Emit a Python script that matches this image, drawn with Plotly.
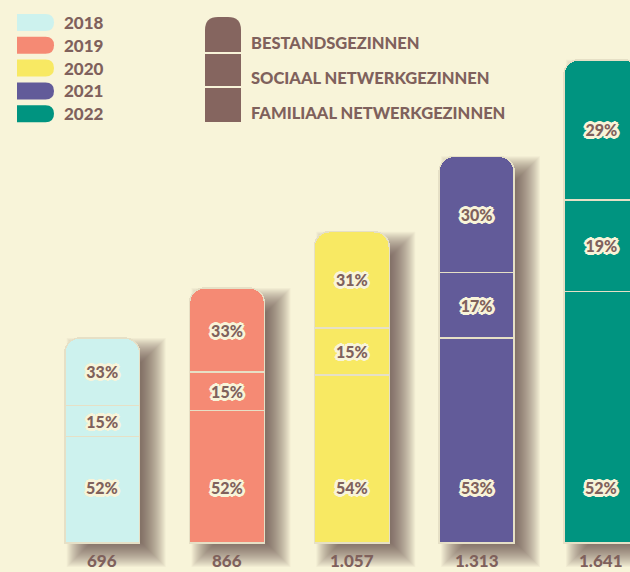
import plotly.graph_objects as go

# ---- data ----
years = ["2018", "2019", "2020", "2021", "2022"]
totals = [696, 866, 1057, 1313, 1641]
pct_familiaal = [52, 52, 54, 53, 52]   # bottom segment
pct_sociaal = [15, 15, 15, 17, 19]     # middle segment
pct_bestand = [33, 33, 31, 30, 29]     # top segment
segment_labels = ["BESTANDSGEZINNEN", "SOCIAAL NETWERKGEZINNEN", "FAMILIAAL NETWERKGEZINNEN"]
year_colors = ["#cdf2ee", "#f58a74", "#f8e963", "#625b99", "#009480"]

# ---- style ----
W, H = 630, 572
BG = "#f8f4d9"
BROWN = "#7f615c"
FONT = "Lato, 'Open Sans', sans-serif"
XR = [-0.819, 4.229]
YR = [-98.5, 1844]
PX_X = (XR[1] - XR[0]) / W
PX_Y = (YR[1] - YR[0]) / H
BAR_W = 0.6

outline = BG
shadow_txt = ", ".join(
    f"{dx}px {dy}px 0 {outline}"
    for dx, dy in [(2, 0), (-2, 0), (0, 2), (0, -2), (2, 2), (-2, -2), (2, -2), (-2, 2),
                   (1, 2), (2, 1), (-1, 2), (-2, 1), (1, -2), (2, -1), (-1, -2), (-2, -1),
                   (3, 0), (-3, 0), (0, 3), (0, -3)]
)
label_font = dict(family=FONT, size=16, color=BROWN, weight=900, shadow=shadow_txt)

fig = go.Figure()

series = [
    ("familiaal", pct_familiaal, False),
    ("sociaal", pct_sociaal, True),
    ("bestand", pct_bestand, True),
]
for name, pcts, show_text in series:
    fig.add_trace(go.Bar(
        x=years,
        y=[t * p / 100 for t, p in zip(totals, pcts)],
        name=name,
        width=BAR_W,
        marker=dict(color=year_colors, line=dict(color="#e6e0c6", width=1.5)),
        text=[f"{p}%" for p in pcts] if show_text else None,
        textposition="inside" if show_text else "none",
        insidetextanchor="middle",
        textangle=0,
        constraintext="none",
        textfont=label_font,
        hoverinfo="skip",
        showlegend=False,
    ))

shapes = []
# soft drop shadows behind bars (computed from the totals)
dx_px, dy_px = 14, 12
for i, t in enumerate(totals):
    for s in range(-12, 13, 1):
        shapes.append(dict(
            type="rect", xref="x", yref="y", layer="below",
            x0=i - BAR_W / 2 + (dx_px - s) * PX_X,
            x1=i + BAR_W / 2 + (dx_px + s) * PX_X,
            y0=0 - (dy_px + s) * PX_Y,
            y1=t - (dy_px - s) * PX_Y,
            fillcolor="rgba(70,62,40,0.038)", line=dict(width=0),
        ))


def rpath(x0, y0, x1, y1, tl=0, tr=0, br=0, bl=0):
    def P(x, y):
        return f"{x / W:.5f},{1 - y / H:.5f}"
    d = f"M{P(x0 + tl, y0)} L{P(x1 - tr, y0)} Q{P(x1, y0)} {P(x1, y0 + tr)} "
    d += f"L{P(x1, y1 - br)} Q{P(x1, y1)} {P(x1 - br, y1)} "
    d += f"L{P(x0 + bl, y1)} Q{P(x0, y1)} {P(x0, y1 - bl)} "
    d += f"L{P(x0, y0 + tl)} Q{P(x0, y0)} {P(x0 + tl, y0)} Z"
    return d


annotations = []
# year legend
for k, (yr, col) in enumerate(zip(years, year_colors)):
    top = 14 + k * 22.8
    shapes.append(dict(type="path", xref="paper", yref="paper",
                       path=rpath(17, top, 54, top + 17, tr=8.5, br=8.5),
                       fillcolor=col, line=dict(width=0)))
    annotations.append(dict(xref="paper", yref="paper", x=62 / W, y=1 - (top + 8.5) / H,
                            xanchor="left", yanchor="middle", text=yr, showarrow=False,
                            font=dict(family=FONT, size=17, color=BROWN, weight=900)))

# segment legend
seg_tops = [17, 54, 88]
seg_bots = [52, 86, 122]
text_y = [43, 78, 113]
for k, lab in enumerate(segment_labels):
    r = 13 if k == 0 else 0
    shapes.append(dict(type="path", xref="paper", yref="paper",
                       path=rpath(205, seg_tops[k], 241, seg_bots[k], tl=r, tr=r),
                       fillcolor="#85655f", line=dict(width=0)))
    annotations.append(dict(xref="paper", yref="paper", x=249 / W, y=1 - text_y[k] / H,
                            xanchor="left", yanchor="middle", text=lab, showarrow=False,
                            font=dict(family=FONT, size=16.5, color=BROWN, weight=900)))

# bottom-segment percentages (placed at a common height, as in the original)
for i, p in enumerate(pct_familiaal):
    annotations.append(dict(x=i, y=1 - 487 / H, xref="x", yref="paper",
                            xanchor="center", yanchor="middle",
                            text=f"{p}%", showarrow=False, font=label_font))

# totals under bars
for i, t in enumerate(totals):
    annotations.append(dict(x=i, y=0, xref="x", yref="paper",
                            xanchor="center", yanchor="bottom", yshift=-1,
                            text=f"{t:,}".replace(",", "."), showarrow=False,
                            font=dict(family=FONT, size=17, color=BROWN, weight=900)))

fig.update_layout(
    width=W, height=H,
    margin=dict(l=0, r=0, t=0, b=0),
    paper_bgcolor=BG, plot_bgcolor=BG,
    barmode="stack",
    barcornerradius=15,
    xaxis=dict(type="category", range=XR, visible=False, fixedrange=True),
    yaxis=dict(range=YR, visible=False, fixedrange=True),
    shapes=shapes,
    annotations=annotations,
    showlegend=False,
)

fig.write_html(
    "out.html",
    config={"displayModeBar": False},
    post_script="document.body.style.margin='0';document.body.style.background='" + BG + "';",
)
